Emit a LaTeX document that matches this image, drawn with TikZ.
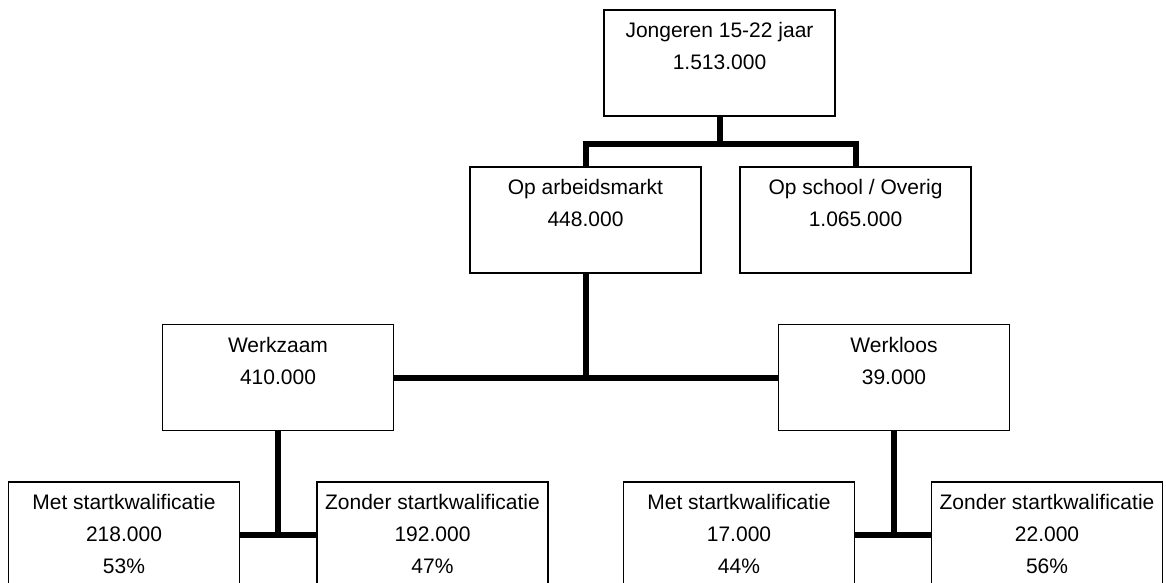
\documentclass[tikz,border=0pt]{standalone}
\usepackage{fontspec}
\setmainfont{Liberation Sans}
\newcommand{\bt}[1]{\parbox[c][106pt][t]{231pt}{\centering\fontsize{21}{32}\selectfont\rule{0pt}{27.5pt}#1}}
\tikzset{
  box/.style={draw, line width=1.3pt, inner sep=0pt, fill=white},
  conn/.style={line width=6pt, line join=miter}
}
\begin{document}
\begin{tikzpicture}[x=1pt,y=1pt]
\clip (0,0) rectangle (1166,-582);
\fill[white] (0,0) rectangle (1166,-582);
% connectors first
\coordinate (ptop) at (719.5,-63);
\coordinate (parb) at (585.5,-220);
\coordinate (pschool) at (855.5,-220);
\coordinate (pwz) at (278,-377.5);
\coordinate (pwl) at (894,-377.5);
\coordinate (pm1) at (124,-535);
\coordinate (pz1) at (432.5,-535);
\coordinate (pm2) at (739,-535);
\coordinate (pz2) at (1047,-535);

\node[box] (top) at (ptop) {\bt{Jongeren 15-22 jaar\\1.513.000}};
\node[box] (arb) at (parb) {\bt{Op arbeidsmarkt\\448.000}};
\node[box] (school) at (pschool) {\bt{Op school / Overig\\1.065.000}};
\node[box] (wz) at (pwz) {\bt{Werkzaam\\410.000}};
\node[box] (wl) at (pwl) {\bt{Werkloos\\39.000}};
\node[box] (m1) at (pm1) {\bt{Met startkwalificatie\\218.000\\53\%}};
\node[box] (z1) at (pz1) {\bt{Zonder startkwalificatie\\192.000\\47\%}};
\node[box] (m2) at (pm2) {\bt{Met startkwalificatie\\17.000\\44\%}};
\node[box] (z2) at (pz2) {\bt{Zonder startkwalificatie\\22.000\\56\%}};

\coordinate (jtop) at (719.5,-144);
\draw[conn] (top.south) -- (jtop);
\draw[conn] (arb.north) |- (jtop) -| (school.north);
\draw[conn] (arb.south) -- (arb.south |- wz.east);
\draw[conn] (wz.east) -- (wl.west);
\draw[conn] (wz.south) -- (wz.south |- m1.east);
\draw[conn] (m1.east) -- (z1.west);
\draw[conn] (wl.south) -- (wl.south |- m2.east);
\draw[conn] (m2.east) -- (z2.west);
\end{tikzpicture}
\end{document}
